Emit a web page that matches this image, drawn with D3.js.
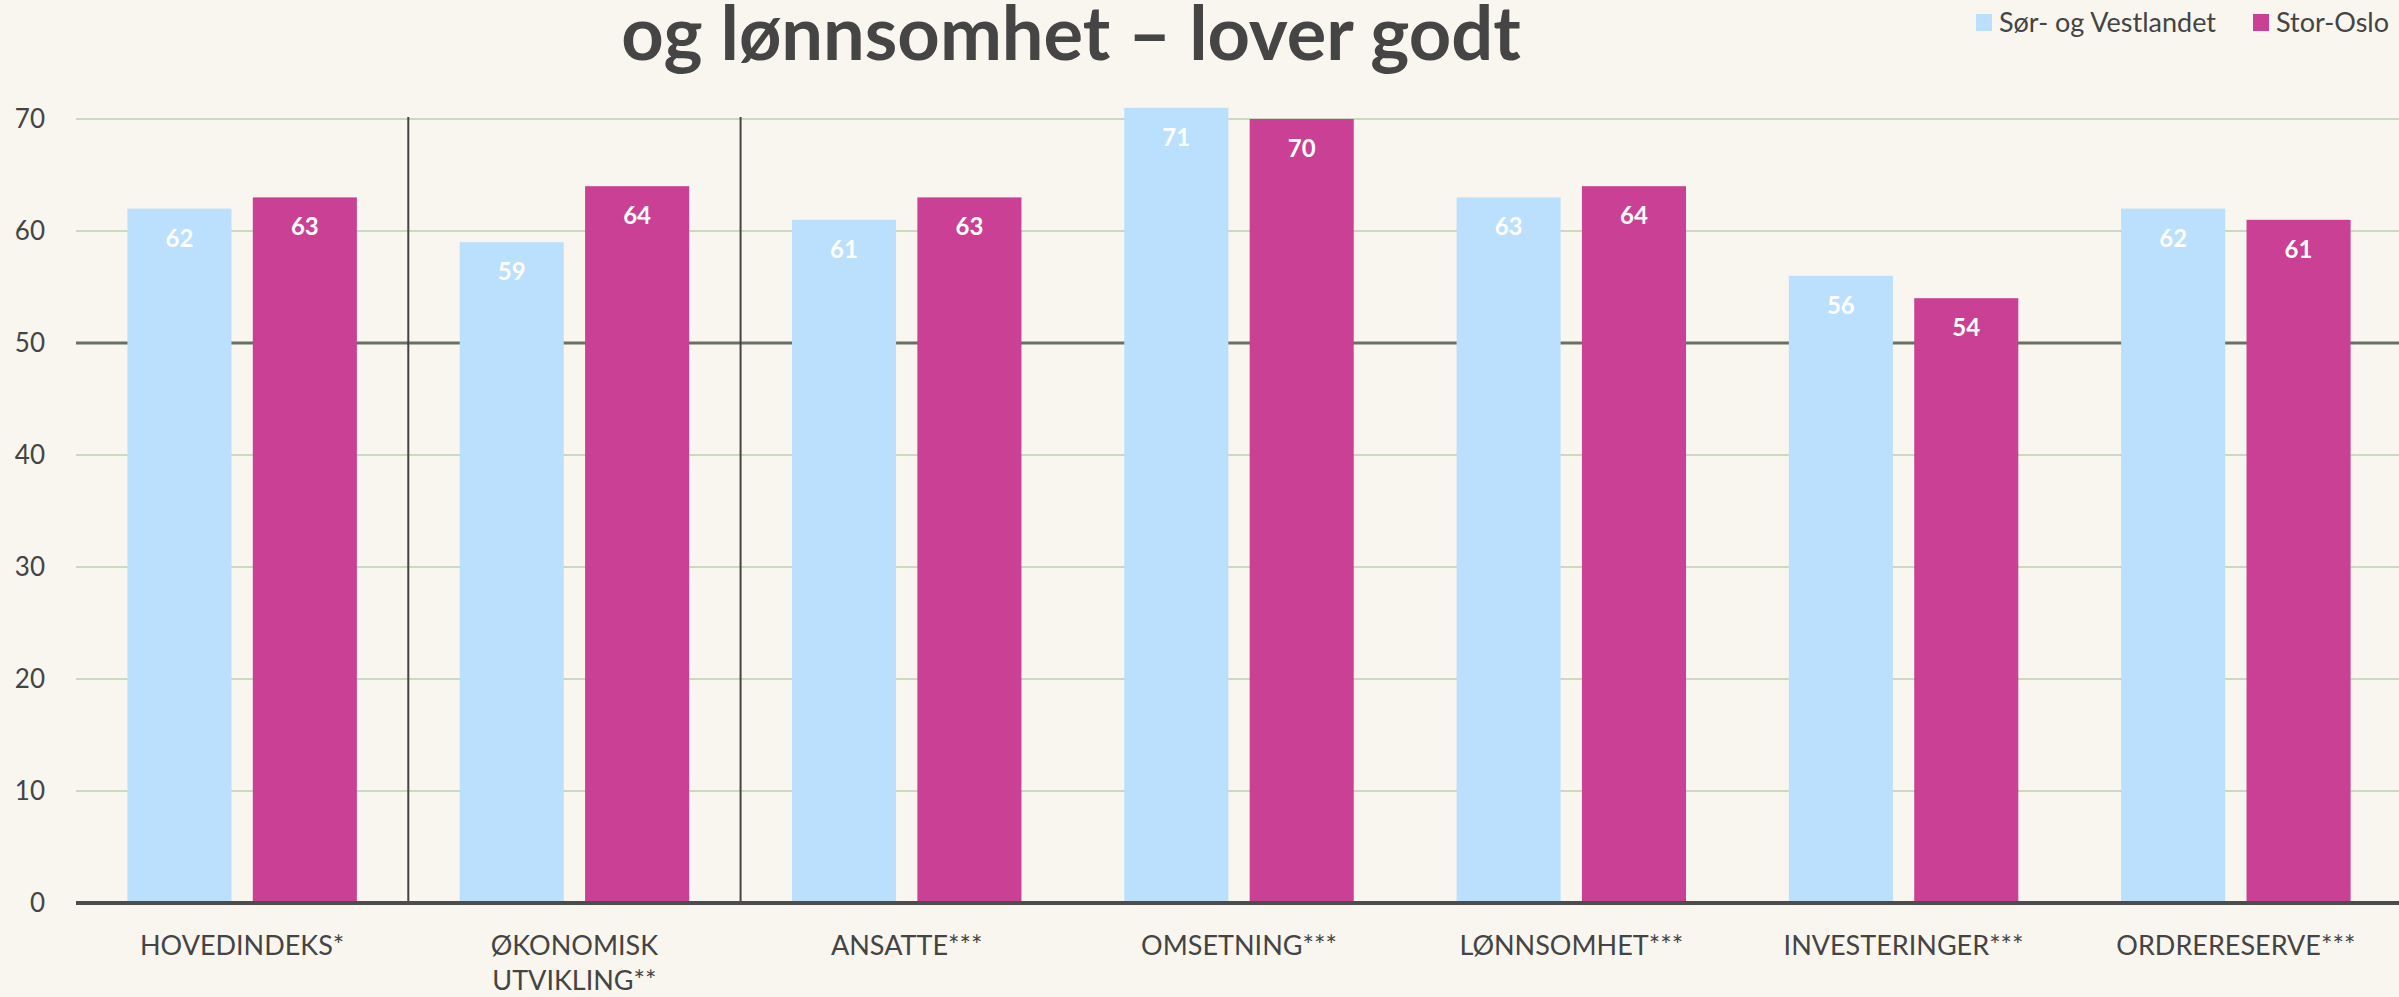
<!DOCTYPE html>
<html>
<head>
<meta charset="utf-8">
<script src="https://cdn.jsdelivr.net/npm/d3@7"></script>
<style>
  html, body { margin: 0; padding: 0; background: #f9f6ef; }
  svg { display: block; font-family: Lato, 'Open Sans', sans-serif; }
</style>
</head>
<body>
<div id="chart"></div>
<script>
const categories = [
  ['HOVEDINDEKS*'],
  ['ØKONOMISK', 'UTVIKLING**'],
  ['ANSATTE***'],
  ['OMSETNING***'],
  ['LØNNSOMHET***'],
  ['INVESTERINGER***'],
  ['ORDRERESERVE***']
];
const seriesNames = ['Sør- og Vestlandet', 'Stor-Oslo'];
const sorVestlandet = [62, 59, 61, 71, 63, 56, 62];
const storOslo = [63, 64, 63, 70, 64, 54, 61];
const yTicks = [0, 10, 20, 30, 40, 50, 60, 70];
const separatorsAfter = [0, 1];
const title = 'og lønnsomhet – lover godt';

const width = 2399, height = 997;
const colors = ['#bae0fd', '#c94095'];

const margin = { top: 119, right: -3, bottom: 94, left: 76 };

const svg = d3.select('#chart')
  .append('svg')
  .attr('width', width)
  .attr('height', height);

svg.append('rect')
  .attr('width', width)
  .attr('height', height)
  .attr('fill', '#f9f6ef');

const x0 = d3.scaleBand()
  .domain(d3.range(categories.length))
  .range([margin.left, width - margin.right])
  .paddingInner(0)
  .paddingOuter(0);

const x1 = d3.scaleBand()
  .domain([0, 1])
  .range([0, x0.bandwidth()])
  .paddingInner(0.17)
  .paddingOuter(0.41);

const y = d3.scaleLinear()
  .domain([0, 70])
  .range([height - margin.bottom, margin.top]);

// gridlines
const grid = svg.append('g');
grid.selectAll('line')
  .data(yTicks.filter(d => d > 0))
  .enter()
  .append('line')
  .attr('x1', margin.left)
  .attr('x2', width)
  .attr('y1', d => y(d))
  .attr('y2', d => y(d))
  .attr('stroke', d => (d === 50 ? '#687062' : '#cdd8c3'))
  .attr('stroke-width', d => (d === 50 ? 3 : 2));

// y axis labels
const yAxis = d3.axisLeft(y).tickValues(yTicks).tickSize(0).tickPadding(0);
const yg = svg.append('g')
  .attr('transform', `translate(${margin.left - 31},0)`)
  .call(yAxis);
yg.select('.domain').remove();
yg.selectAll('text')
  .attr('font-size', 26)
  .attr('fill', '#444')
  .attr('font-family', 'Lato, sans-serif');

// separators
svg.append('g')
  .selectAll('line')
  .data(separatorsAfter)
  .enter()
  .append('line')
  .attr('x1', d => x0(d) + x0.bandwidth())
  .attr('x2', d => x0(d) + x0.bandwidth())
  .attr('y1', y(70) - 2)
  .attr('y2', y(0))
  .attr('stroke', '#444')
  .attr('stroke-width', 2);

// bars
const rows = categories.map((c, i) => ({ i, values: [sorVestlandet[i], storOslo[i]] }));
const groups = svg.append('g')
  .selectAll('g')
  .data(rows)
  .enter()
  .append('g')
  .attr('transform', d => `translate(${x0(d.i)},0)`);

groups.selectAll('rect')
  .data(d => d.values.map((v, s) => ({ v, s })))
  .enter()
  .append('rect')
  .attr('x', d => x1(d.s))
  .attr('width', x1.bandwidth())
  .attr('y', d => y(d.v))
  .attr('height', d => y(0) - y(d.v))
  .attr('fill', d => colors[d.s]);

groups.selectAll('text.value')
  .data(d => d.values.map((v, s) => ({ v, s })))
  .enter()
  .append('text')
  .attr('class', 'value')
  .attr('x', d => x1(d.s) + x1.bandwidth() / 2)
  .attr('y', d => y(d.v) + 38)
  .attr('text-anchor', 'middle')
  .attr('font-size', 24)
  .attr('font-weight', 'bold')
  .attr('fill', '#fff')
  .text(d => d.v);

// baseline
svg.append('line')
  .attr('x1', margin.left)
  .attr('x2', width)
  .attr('y1', y(0))
  .attr('y2', y(0))
  .attr('stroke', '#4d4d4d')
  .attr('stroke-width', 4);

// x labels
const xl = svg.append('g')
  .selectAll('text')
  .data(categories)
  .enter()
  .append('text')
  .attr('x', (d, i) => x0(i) + x0.bandwidth() / 2)
  .attr('y', 955)
  .attr('text-anchor', 'middle')
  .attr('font-size', 27)
  .attr('fill', '#444');
xl.selectAll('tspan')
  .data(d => d)
  .enter()
  .append('tspan')
  .attr('x', function() { return d3.select(this.parentNode).attr('x'); })
  .attr('dy', (d, i) => (i === 0 ? 0 : 35))
  .text(d => d);

// title
svg.append('text')
  .attr('x', 1071)
  .attr('y', 60)
  .attr('text-anchor', 'middle')
  .attr('font-size', 74)
  .attr('font-weight', 'bold')
  .attr('fill', '#454545')
  .text(title);

// legend
const legendX = [1976, 2253];
const legend = svg.append('g')
  .selectAll('g')
  .data(seriesNames)
  .enter()
  .append('g')
  .attr('transform', (d, i) => `translate(${legendX[i]},14)`);
legend.append('rect')
  .attr('width', 16)
  .attr('height', 17)
  .attr('fill', (d, i) => colors[i]);
legend.append('text')
  .attr('x', 23)
  .attr('y', 18)
  .attr('font-size', 27)
  .attr('fill', '#444')
  .text(d => d);
</script>
</body>
</html>
